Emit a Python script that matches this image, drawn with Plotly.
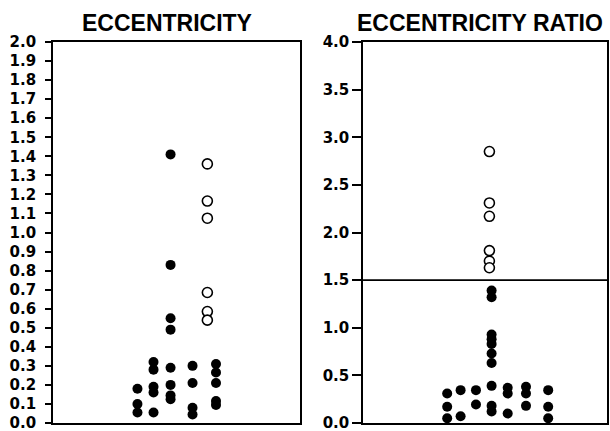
import plotly.graph_objects as go

# ---- data (x = horizontal jitter position within panel, 0-10) ----
ecc_filled_x = [3.42, 3.42, 3.42,
                4.07, 4.07, 4.07, 4.07, 4.07,
                4.76, 4.76, 4.76, 4.76, 4.76, 4.76, 4.76, 4.76,
                5.65, 5.65, 5.65, 5.65,
                6.60, 6.60, 6.60, 6.60, 6.60]
ecc_filled_y = [0.18, 0.10, 0.055,
                0.32, 0.28, 0.19, 0.16, 0.055,
                1.41, 0.83, 0.55, 0.49, 0.29, 0.20, 0.145, 0.125,
                0.30, 0.21, 0.08, 0.045,
                0.31, 0.265, 0.21, 0.115, 0.095]
ecc_open_x = [6.25, 6.25, 6.25, 6.25, 6.25, 6.25]
ecc_open_y = [1.36, 1.165, 1.075, 0.685, 0.585, 0.54]

ratio_filled_x = [3.45, 3.45, 3.45,
                  4.00, 4.00,
                  4.63, 4.63,
                  5.27, 5.27, 5.27, 5.27, 5.27, 5.27, 5.27, 5.27, 5.27, 5.27,
                  5.93, 5.93, 5.93,
                  6.68, 6.68, 6.68,
                  7.59, 7.59, 7.59]
ratio_filled_y = [0.31, 0.17, 0.05,
                  0.345, 0.07,
                  0.345, 0.195,
                  1.39, 1.32, 0.93, 0.88, 0.83, 0.73, 0.63, 0.39, 0.18, 0.12,
                  0.37, 0.31, 0.10,
                  0.38, 0.31, 0.18,
                  0.345, 0.17, 0.05]
ratio_open_x = [5.18, 5.18, 5.18, 5.18, 5.18, 5.18]
ratio_open_y = [2.85, 2.31, 2.17, 1.81, 1.70, 1.63]

ecc_ticks = [round(i * 0.1, 1) for i in range(21)]
ratio_ticks = [round(i * 0.5, 1) for i in range(9)]
ecc_tick_labels = [f"{v:.1f}" for v in ecc_ticks]
ratio_tick_labels = [f"{v:.1f}" for v in ratio_ticks]
ratio_threshold = 1.5

titles = ["ECCENTRICITY", "ECCENTRICITY RATIO"]

fig = go.Figure()

filled_marker = dict(symbol="circle", size=10, color="black", line=dict(width=0))
open_marker = dict(symbol="circle", size=10, color="white", line=dict(width=1.6, color="black"))

fig.add_trace(go.Scatter(x=ecc_filled_x, y=ecc_filled_y, mode="markers",
                         marker=filled_marker, xaxis="x", yaxis="y", showlegend=False))
fig.add_trace(go.Scatter(x=ecc_open_x, y=ecc_open_y, mode="markers",
                         marker=open_marker, xaxis="x", yaxis="y", showlegend=False))
fig.add_trace(go.Scatter(x=ratio_filled_x, y=ratio_filled_y, mode="markers",
                         marker=filled_marker, xaxis="x2", yaxis="y2", showlegend=False))
fig.add_trace(go.Scatter(x=ratio_open_x, y=ratio_open_y, mode="markers",
                         marker=open_marker, xaxis="x2", yaxis="y2", showlegend=False))

# threshold line in ratio panel
fig.add_shape(type="line", xref="x2 domain", x0=0, x1=1, yref="y2",
              y0=ratio_threshold, y1=ratio_threshold,
              line=dict(color="black", width=1.6))

tickfont = dict(family="DejaVu Sans", size=15, color="black", weight="bold")
titlefont = dict(family="Liberation Sans", size=23, color="black", weight="bold")

common_x = dict(range=[0, 10], showline=True, linecolor="black", linewidth=2,
                mirror=True, showticklabels=False, ticks="", showgrid=False,
                zeroline=False, fixedrange=True, automargin=False)

fig.update_layout(
    width=610, height=431,
    margin=dict(l=53, r=3, t=42, b=8),
    paper_bgcolor="white", plot_bgcolor="white",
    xaxis=dict(domain=[0, 0.4458], anchor="y", **common_x),
    xaxis2=dict(domain=[0.5596, 1.0], anchor="y2", **common_x),
    yaxis=dict(domain=[0, 1], anchor="x", range=[0, 2.0],
               tickvals=ecc_ticks, ticktext=ecc_tick_labels,
               ticks="outside", ticklen=6, tickwidth=1.5, tickcolor="black",
               showline=True, linecolor="black", linewidth=1.6, mirror=True,
               showgrid=False, zeroline=False, tickfont=tickfont,
               ticklabelstandoff=6, ticklabeloverflow="allow", automargin=False),
    yaxis2=dict(domain=[0, 1], anchor="x2", range=[0, 4.0],
                tickvals=ratio_ticks, ticktext=ratio_tick_labels,
                ticks="outside", ticklen=9, tickwidth=1.5, tickcolor="black",
                showline=True, linecolor="black", linewidth=1.6, mirror=True,
                showgrid=False, zeroline=False, tickfont=tickfont,
                ticklabelstandoff=0, ticklabeloverflow="allow", automargin=False),
    annotations=[
        dict(text=titles[0], xref="paper", yref="paper", x=0.2058, y=1.0486,
             xanchor="center", yanchor="middle", showarrow=False, font=titlefont),
        dict(text=titles[1], xref="paper", yref="paper", x=0.9964, y=1.0486,
             xanchor="right", yanchor="middle", showarrow=False, font=titlefont),
    ],
)

fig.write_html("out.html",
               config={"displayModeBar": False},
               post_script="document.body.style.margin='0px';document.body.style.overflow='hidden';")
